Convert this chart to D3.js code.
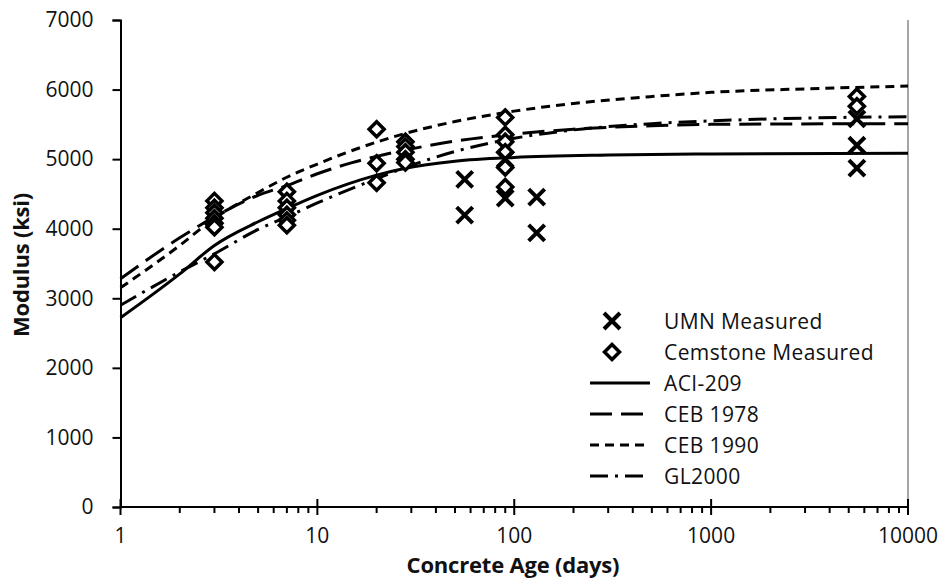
<!DOCTYPE html>
<html><head><meta charset="utf-8">
<script src="https://cdn.jsdelivr.net/npm/d3@7"></script>
<style>body{margin:0;background:#fff}svg{display:block}text{font-family:"Open Sans",Lato,sans-serif;fill:#111}</style>
</head><body><svg id="c" width="948" height="580"></svg>
<script>
// ---- data ----
const xTicks = [1, 10, 100, 1000, 10000];
const yTicks = [0, 1000, 2000, 3000, 4000, 5000, 6000, 7000];

const umnAge = [56, 56, 90, 90, 130, 130, 5500, 5500, 5500];
const umnMod = [4710, 4195, 4440, 5000, 4455, 3940, 5580, 5200, 4870];

const cemAge = [3, 3, 3, 3, 3, 3, 3, 7, 7, 7, 7, 7, 7, 20, 20, 20, 28, 28, 28, 28, 28, 90, 90, 90, 90, 90, 90, 5500, 5500];
const cemMod = [4400, 4300, 4230, 4150, 4080, 4020, 3520, 4530, 4400, 4300, 4200, 4120, 4050, 5430, 4940, 4660, 5250, 5180, 5100, 5000, 4950, 5600, 5350, 5250, 5100, 4880, 4600, 5900, 5760];

const aciAge = [1, 2, 3, 5, 7, 10, 20, 28, 50, 100, 300, 1000, 10000];
const aciMod = [2720, 3350, 3760, 4100, 4290, 4480, 4770, 4870, 4970, 5025, 5060, 5075, 5085];

const ceb78Age = [1, 2, 3, 5, 7, 10, 15, 20, 28, 50, 100, 200, 500, 1000, 10000];
const ceb78Mod = [3280, 3870, 4170, 4480, 4620, 4790, 4950, 5040, 5130, 5260, 5360, 5430, 5480, 5500, 5510];

const ceb90Age = [1, 2, 3, 5, 7, 10, 20, 28, 50, 100, 200, 500, 1000, 3000, 10000];
const ceb90Mod = [3150, 3760, 4150, 4520, 4740, 4930, 5245, 5370, 5540, 5690, 5800, 5900, 5960, 6010, 6050];

const glAge = [1, 2, 3, 5, 7, 10, 20, 28, 50, 100, 200, 500, 1000, 3000, 10000];
const glMod = [2900, 3380, 3640, 3990, 4170, 4370, 4720, 4880, 5110, 5300, 5420, 5510, 5550, 5590, 5610];

const seriesNames = ["UMN Measured", "Cemstone Measured", "ACI-209", "CEB 1978", "CEB 1990", "GL2000"];

// ---- chart ----
const svg = d3.select("#c");
const x = d3.scaleLog().domain([1, 10000]).range([120.5, 908]);
const y = d3.scaleLinear().domain([0, 7000]).range([507, 20]);

// right border
svg.append("line").attr("x1", 908).attr("x2", 908).attr("y1", 20).attr("y2", 507)
  .attr("stroke", "#888").attr("stroke-width", 1.5);

const lines = [
  {age: aciAge, mod: aciMod, dash: null},
  {age: ceb78Age, mod: ceb78Mod, dash: "22,9"},
  {age: ceb90Age, mod: ceb90Mod, dash: "9,6"},
  {age: glAge, mod: glMod, dash: "18,7,3,7"}
];
const lineGen = d3.line().x(d => x(d[0])).y(d => y(d[1])).curve(d3.curveMonotoneX);
lines.forEach(s => {
  svg.append("path").datum(s.age.map((a, i) => [a, s.mod[i]]))
    .attr("d", lineGen).attr("fill", "none").attr("stroke", "#000")
    .attr("stroke-width", 3).attr("stroke-dasharray", s.dash);
});

function drawX(g, cx, cy) {
  const r = 8;
  g.append("path").attr("d", `M${cx-r},${cy-r}L${cx+r},${cy+r}M${cx-r},${cy+r}L${cx+r},${cy-r}`)
    .attr("stroke", "#000").attr("stroke-width", 4).attr("fill", "none");
}
function drawD(g, cx, cy) {
  const r = 7.5;
  g.append("path").attr("d", `M${cx},${cy-r}L${cx+r},${cy}L${cx},${cy+r}L${cx-r},${cy}Z`)
    .attr("stroke", "#000").attr("stroke-width", 3.5).attr("fill", "#fff");
}
const mg = svg.append("g");
cemAge.forEach((a, i) => drawD(mg, x(a), y(cemMod[i])));
umnAge.forEach((a, i) => drawX(mg, x(a), y(umnMod[i])));

// axes
const ya = svg.append("g").attr("transform", "translate(120.5,0)")
  .call(d3.axisLeft(y).tickValues(yTicks).tickSize(8).tickPadding(19).tickFormat(d3.format("d")));
ya.select(".domain").attr("stroke", "#000").attr("stroke-width", 2);
ya.selectAll(".tick line").attr("stroke", "#000").attr("stroke-width", 2);
ya.selectAll("text").style("font-size", "21px").style("font-family", "'Open Sans', sans-serif").attr("fill", "#111");

const xa = svg.append("g").attr("transform", "translate(0,507)");
xa.append("line").attr("x1", 120.5).attr("x2", 908).attr("stroke", "#000").attr("stroke-width", 2);
const minor = [];
for (let p = 0; p < 4; p++) for (let k = 2; k <= 9; k++) minor.push(k * Math.pow(10, p));
xa.selectAll(".mn").data(minor).enter().append("line")
  .attr("x1", d => x(d)).attr("x2", d => x(d)).attr("y1", 0).attr("y2", 6)
  .attr("stroke", "#000").attr("stroke-width", 2);
xa.selectAll(".mj").data(xTicks).enter().append("line")
  .attr("x1", d => x(d)).attr("x2", d => x(d)).attr("y1", -8).attr("y2", 8)
  .attr("stroke", "#000").attr("stroke-width", 2);
xa.selectAll(".lb").data(xTicks).enter().append("text")
  .attr("x", d => x(d)).attr("y", 36).attr("text-anchor", "middle")
  .style("font-size", "21px").text(d => d);

svg.append("text").attr("x", 513).attr("y", 573).attr("text-anchor", "middle")
  .style("font-size", "22px").style("font-weight", "bold").style("letter-spacing", "-0.2px").text("Concrete Age (days)");
svg.append("text").attr("transform", "translate(29,265) rotate(-90)").attr("text-anchor", "middle")
  .style("font-size", "22px").style("font-weight", "bold").style("letter-spacing", "-0.2px").text("Modulus (ksi)");

// legend
const lg = svg.append("g");
const ly0 = 321, lstep = 31;
drawX(lg, 612, ly0);
drawD(lg, 612, ly0 + lstep);
lines.forEach((s, i) => {
  lg.append("line").attr("x1", 590).attr("x2", 650)
    .attr("y1", ly0 + lstep * (i + 2)).attr("y2", ly0 + lstep * (i + 2))
    .attr("stroke", "#000").attr("stroke-width", 3).attr("stroke-dasharray", s.dash);
});
seriesNames.forEach((n, i) => {
  lg.append("text").attr("x", 664).attr("y", ly0 + lstep * i).attr("dy", "0.36em")
    .style("font-size", "21px").style("letter-spacing", "0.4px").text(n);
});
</script></body></html>
